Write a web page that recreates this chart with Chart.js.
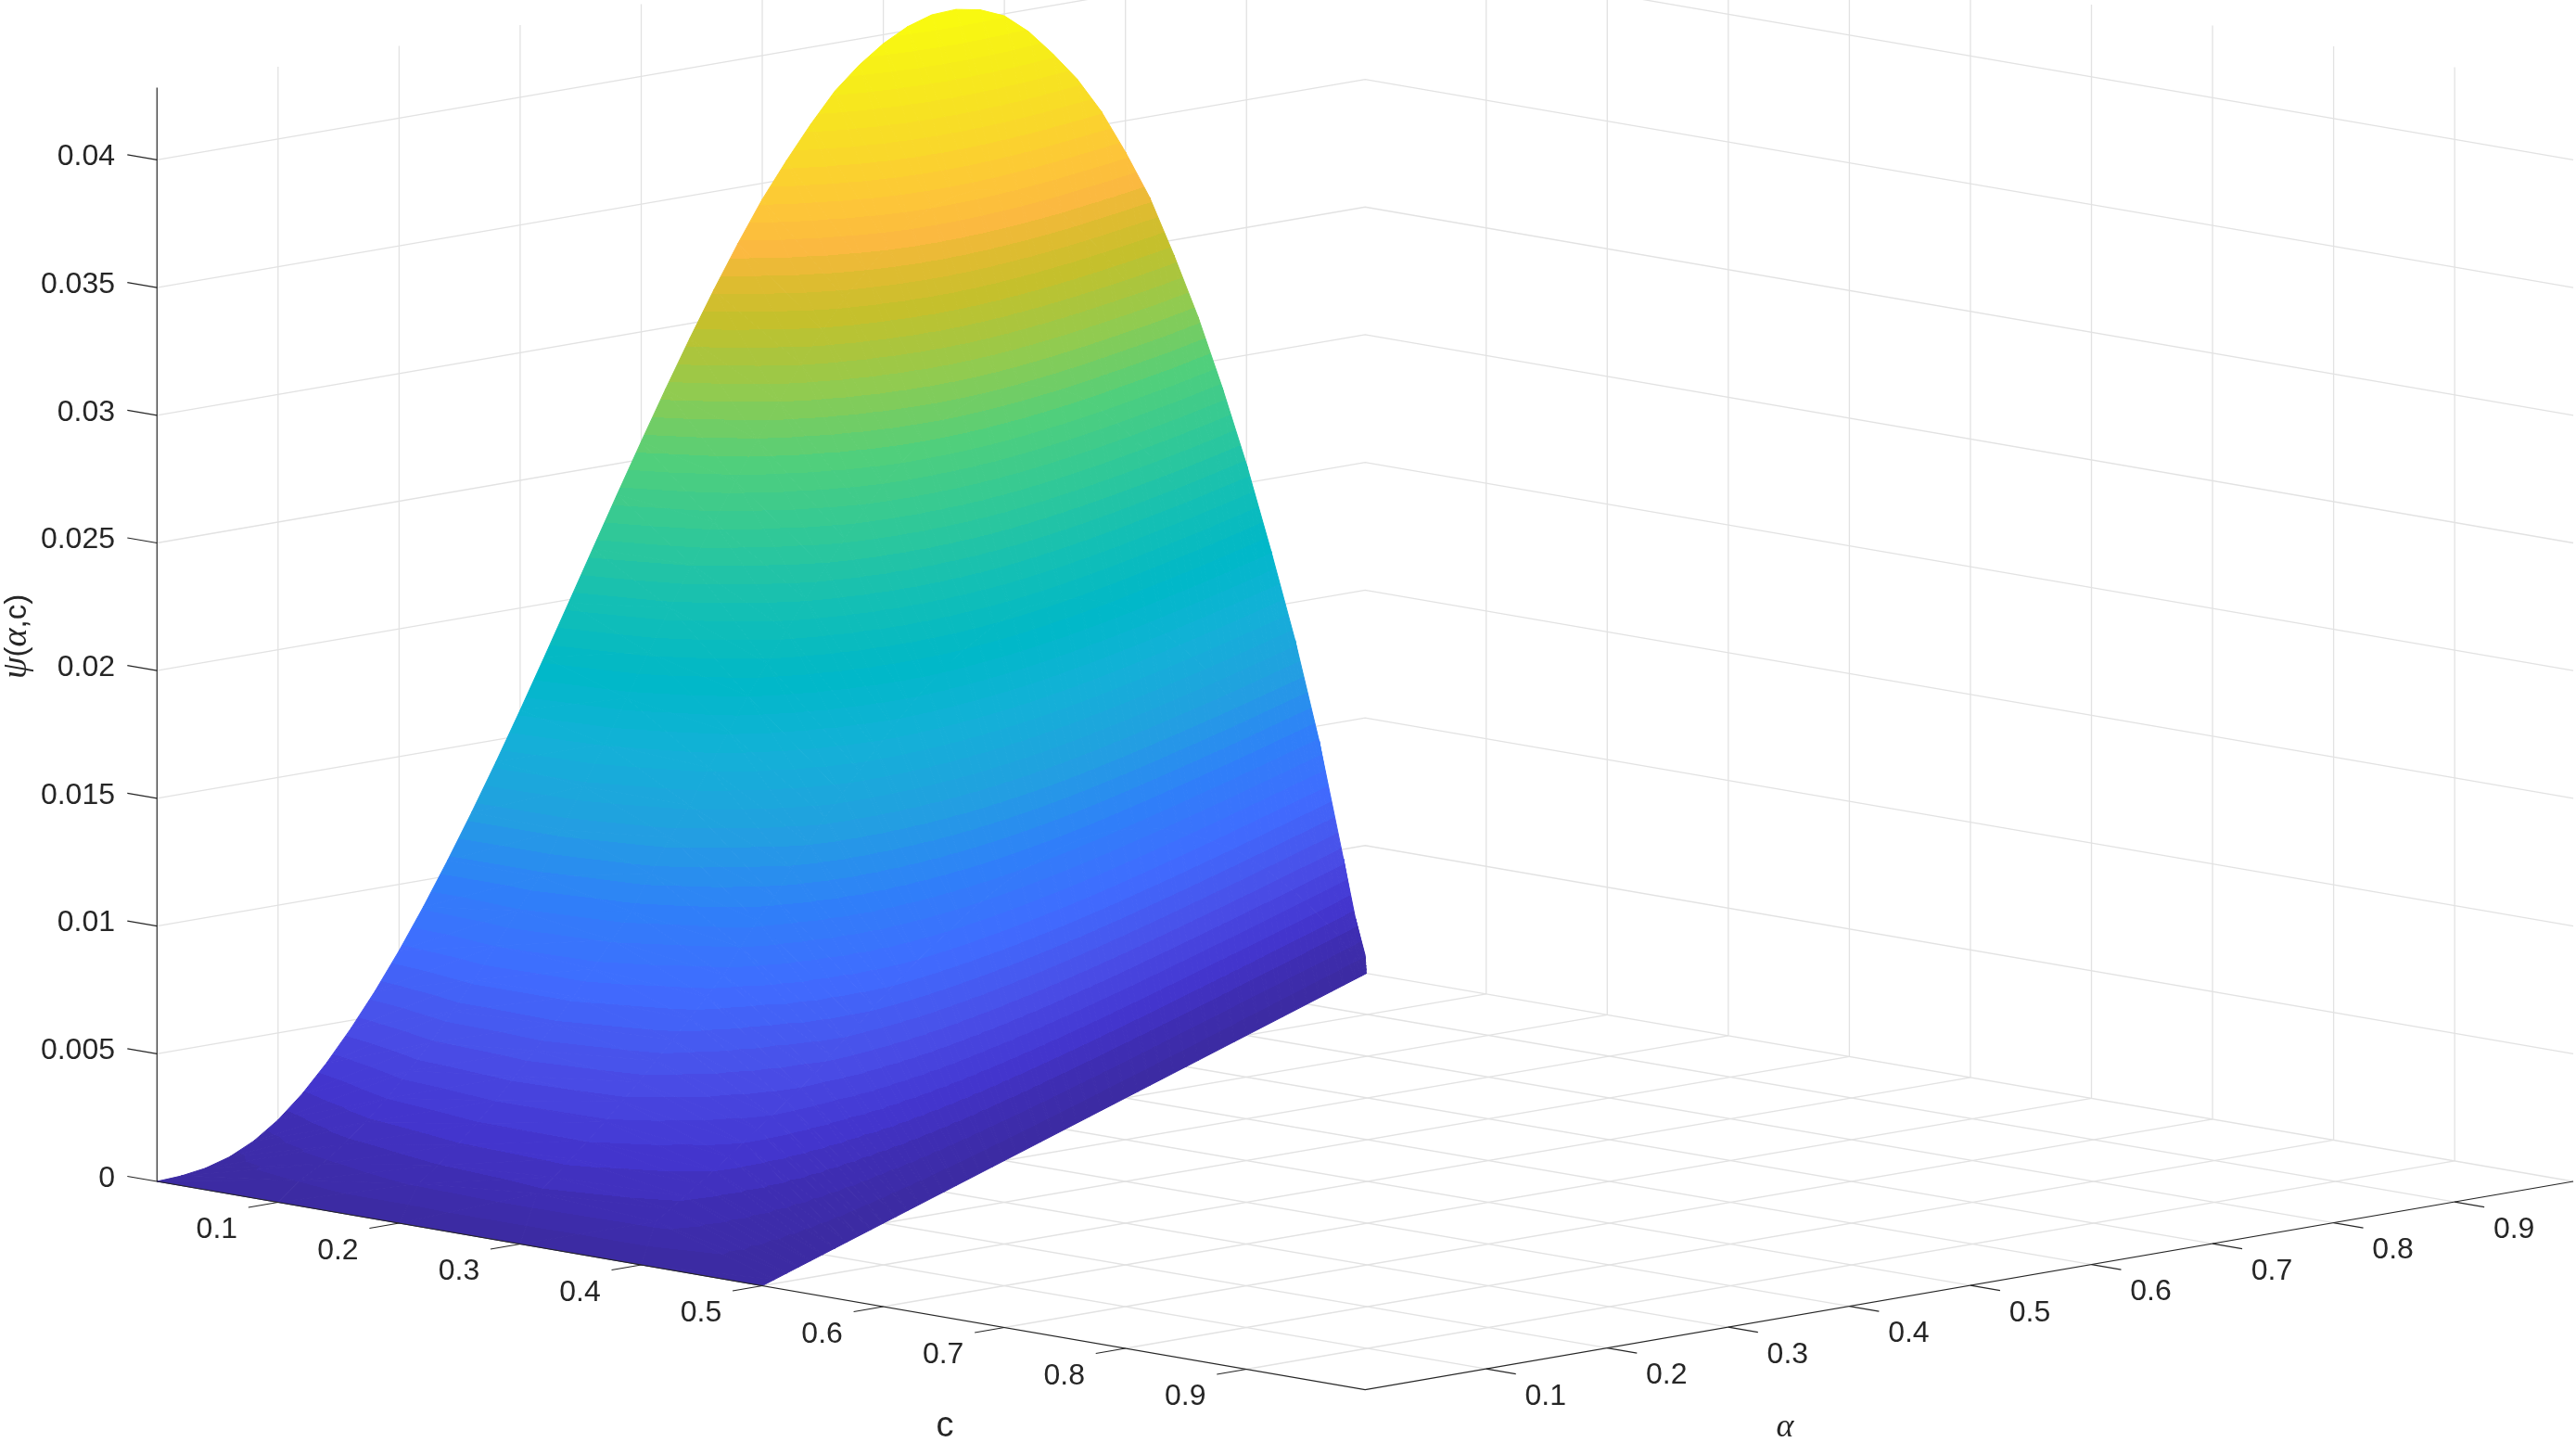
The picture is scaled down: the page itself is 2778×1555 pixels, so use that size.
<!DOCTYPE html>
<html>
<head>
<meta charset="utf-8">
<style>
  html, body { margin: 0; padding: 0; background: #fff; }
  canvas { display: block; }
</style>
<script src="https://cdn.jsdelivr.net/npm/chart.js@4"></script>
</head>
<body>
<canvas id="surfaceChart" width="2778" height="1555"></canvas>
<script>
const cTicks = [0.1, 0.2, 0.3, 0.4, 0.5, 0.6, 0.7, 0.8, 0.9];
const alphaTicks = [0.1, 0.2, 0.3, 0.4, 0.5, 0.6, 0.7, 0.8, 0.9];
const psiTicks = [0, 0.005, 0.01, 0.015, 0.02, 0.025, 0.03, 0.035, 0.04];
const psiTickLabels = ["0", "0.005", "0.01", "0.015", "0.02", "0.025", "0.03", "0.035", "0.04"];
const psiTop = 0.04283;
const boxEnd = 0.998;

// surface values
// each row is one alpha, columns go from c=0 to the far edge c=(1-alpha)/2
const alphaRows = [0, 0.02, 0.04, 0.06, 0.08, 0.1, 0.12, 0.14, 0.16, 0.18, 0.2, 0.22, 0.24, 0.26,
    0.28, 0.3, 0.32, 0.34, 0.36, 0.38, 0.4, 0.42, 0.44, 0.46, 0.48, 0.5, 0.52, 0.54, 0.56, 0.58,
    0.6, 0.62, 0.64, 0.66, 0.68, 0.7, 0.72, 0.74, 0.76, 0.78, 0.8, 0.82, 0.84, 0.86, 0.88, 0.9,
    0.92, 0.94, 0.96, 0.98, 0.99, 0.998];
const edgeFractions = [0, 0.2, 0.4, 0.6, 0.8, 1];
const psiRows = [
    [0, 0, 0, 0, 0, 0],
    [0.00005, 0.00066, 0.00136, 0.00178, 0.00147, 0],
    [0.00019, 0.00114, 0.00189, 0.0022, 0.00173, 0],
    [0.00047, 0.00171, 0.00247, 0.00269, 0.00199, 0],
    [0.00093, 0.0024, 0.00312, 0.0032, 0.00227, 0],
    [0.00159, 0.00318, 0.00382, 0.00372, 0.00256, 0],
    [0.00245, 0.00407, 0.00459, 0.0043, 0.00287, 0],
    [0.00349, 0.005, 0.00538, 0.00486, 0.00317, 0],
    [0.00467, 0.00603, 0.00623, 0.00547, 0.00349, 0],
    [0.00597, 0.00711, 0.0071, 0.00609, 0.0038, 0],
    [0.0074, 0.00824, 0.008, 0.00671, 0.00412, 0],
    [0.00895, 0.00943, 0.00894, 0.00734, 0.00444, 0],
    [0.0106, 0.0106, 0.00986, 0.00798, 0.00475, 0],
    [0.01233, 0.01224, 0.01115, 0.00888, 0.00522, 0],
    [0.01413, 0.01378, 0.01235, 0.0097, 0.00564, 0],
    [0.016, 0.01525, 0.01343, 0.01041, 0.00599, 0],
    [0.01792, 0.01686, 0.0147, 0.01128, 0.00643, 0],
    [0.01987, 0.01849, 0.0159, 0.01209, 0.00682, 0],
    [0.02183, 0.02005, 0.0171, 0.0129, 0.00723, 0],
    [0.02378, 0.02155, 0.0182, 0.01358, 0.00755, 0],
    [0.0257, 0.02305, 0.0193, 0.01428, 0.00788, 0],
    [0.02758, 0.02447, 0.02033, 0.01492, 0.00818, 0],
    [0.0294, 0.0259, 0.02133, 0.01559, 0.0085, 0],
    [0.03115, 0.02724, 0.0223, 0.01618, 0.00876, 0],
    [0.03281, 0.02852, 0.0232, 0.01675, 0.00902, 0],
    [0.03437, 0.02967, 0.02401, 0.01722, 0.00923, 0],
    [0.03572, 0.03072, 0.02475, 0.01765, 0.00941, 0],
    [0.03698, 0.0316, 0.02533, 0.01798, 0.00954, 0],
    [0.03812, 0.03245, 0.02589, 0.01829, 0.00968, 0],
    [0.03897, 0.03313, 0.02628, 0.0185, 0.00974, 0],
    [0.03965, 0.03358, 0.02653, 0.01858, 0.00976, 0],
    [0.04015, 0.03382, 0.02661, 0.01855, 0.00971, 0],
    [0.04045, 0.03388, 0.02657, 0.01845, 0.00964, 0],
    [0.0405, 0.03372, 0.02631, 0.01826, 0.00947, 0],
    [0.04032, 0.03342, 0.02601, 0.01798, 0.0093, 0],
    [0.03992, 0.0329, 0.02555, 0.0176, 0.00908, 0],
    [0.03914, 0.03223, 0.02493, 0.01711, 0.00882, 0],
    [0.03811, 0.0313, 0.02412, 0.01652, 0.0085, 0],
    [0.03696, 0.03022, 0.02323, 0.01587, 0.00812, 0],
    [0.03553, 0.02895, 0.02218, 0.01512, 0.00774, 0],
    [0.03377, 0.02752, 0.02105, 0.01431, 0.0073, 0],
    [0.03183, 0.0259, 0.01975, 0.0134, 0.00683, 0],
    [0.02941, 0.02388, 0.01818, 0.0123, 0.00624, 0],
    [0.02682, 0.02172, 0.01652, 0.01116, 0.00565, 0],
    [0.02389, 0.01933, 0.01465, 0.00987, 0.00499, 0],
    [0.02072, 0.01672, 0.01264, 0.00852, 0.00429, 0],
    [0.01721, 0.01387, 0.01046, 0.00702, 0.00354, 0],
    [0.01353, 0.01088, 0.0082, 0.00549, 0.00276, 0],
    [0.0094, 0.00754, 0.00567, 0.00379, 0.0019, 0],
    [0.00463, 0.00371, 0.00279, 0.00186, 0.00093, 0],
    [0.0022, 0.00176, 0.00132, 0.00088, 0.00044, 0],
    [0.0007, 0.00056, 0.00042, 0.00028, 0.00014, 0]
];

// colours of the surface against psi
const colorPsi = [0, 0.0015, 0.003, 0.005, 0.0075, 0.01, 0.0125, 0.015, 0.0175, 0.02, 0.0225, 0.025,
    0.0275, 0.03, 0.0315, 0.0325, 0.034, 0.036, 0.038, 0.0405];
const colorStops = [[59, 42, 160], [62, 45, 176], [68, 54, 208], [74, 78, 232], [64, 108, 255],
    [47, 128, 248], [34, 160, 224], [20, 176, 216], [0, 184, 200], [20, 191, 180], [48, 200, 152],
    [80, 207, 124], [144, 203, 80], [196, 192, 44], [224, 187, 48], [251, 184, 64], [253, 198, 56],
    [249, 218, 40], [246, 234, 28], [249, 251, 14]];
const colorLevels = 64;

// camera: orthographic view, constants measured on the box corners
const viewTilt = 225;
const viewZ = 27540;
const viewWidth = 1305.5;
function project(c, alpha, psi) {
    return { x: c + alpha, y: (alpha - c) * viewTilt + psi * viewZ };
}

function levelColor(k) {
    const psi = (k + 0.5) / colorLevels * colorPsi[colorPsi.length - 1];
    let i = 0;
    while (i < colorPsi.length - 2 && psi > colorPsi[i + 1]) i++;
    const t = (psi - colorPsi[i]) / (colorPsi[i + 1] - colorPsi[i]);
    const rgb = colorStops[i].map((v, n) => Math.round(v + (colorStops[i + 1][n] - v) * t));
    return `rgb(${rgb[0]},${rgb[1]},${rgb[2]})`;
}

function levelOf(psi) {
    const top = colorPsi[colorPsi.length - 1];
    return Math.max(0, Math.min(colorLevels - 1, Math.floor(psi / top * colorLevels)));
}

// fill of one triangle: hard colour steps laid out along its psi slope
function triangleFill(context) {
    const chart = context.chart;
    const ds = context.dataset;
    if (!chart.chartArea) return "transparent";
    if (ds.shade) return ds.shade;

    const xs = chart.scales.x, ys = chart.scales.y;
    const pts = ds.data.slice(0, 3).map(p => ({
        x: xs.getPixelForValue(p.x), y: ys.getPixelForValue(p.y), psi: p.psi
    }));
    const [a, b, c] = pts;
    const det = (b.x - a.x) * (c.y - a.y) - (c.x - a.x) * (b.y - a.y);
    const psis = pts.map(p => p.psi);
    const lo = Math.min(...psis), hi = Math.max(...psis);
    if (Math.abs(det) < 1e-6 || levelOf(lo) === levelOf(hi)) {
        ds.shade = levelColor(levelOf((lo + hi) / 2));
        return ds.shade;
    }

    const gx = ((b.psi - a.psi) * (c.y - a.y) - (c.psi - a.psi) * (b.y - a.y)) / det;
    const gy = ((c.psi - a.psi) * (b.x - a.x) - (b.psi - a.psi) * (c.x - a.x)) / det;
    const g2 = gx * gx + gy * gy;
    const start = pts[psis.indexOf(lo)];
    const span = hi - lo;
    const grad = chart.ctx.createLinearGradient(start.x, start.y,
        start.x + gx * span / g2, start.y + gy * span / g2);
    const top = colorPsi[colorPsi.length - 1];
    for (let k = levelOf(lo); k <= levelOf(hi); k++) {
        const from = Math.max(0, (k / colorLevels * top - lo) / span);
        const to = Math.min(1, ((k + 1) / colorLevels * top - lo) / span);
        grad.addColorStop(from, levelColor(k));
        grad.addColorStop(to, levelColor(k));
    }
    ds.shade = grad;
    return grad;
}

function triangle(p, q, r) {
    return {
        data: [p, q, r, p],
        showLine: true,
        fill: "shape",
        tension: 0,
        pointRadius: 0,
        borderWidth: 1,
        backgroundColor: triangleFill,
        borderColor: triangleFill,
        order: 1
    };
}

function surfacePoint(i, j) {
    const alpha = alphaRows[i];
    const c = edgeFractions[j] * (1 - alpha) / 2;
    return { ...project(c, alpha, psiRows[i][j]), psi: psiRows[i][j] };
}

function path(points, color, width, order) {
    return {
        data: points.map(p => project(p[0], p[1], p[2])),
        showLine: true,
        tension: 0,
        pointRadius: 0,
        fill: false,
        borderColor: color,
        borderWidth: width,
        order: order
    };
}

const datasets = [];
const axisColor = "#262626";
const gridColor = "#e2e2e2";
const tickLength = 0.0245;

// box axes and tick marks
datasets.push(path([[0, 0, 0], [0, 0, psiTop]], axisColor, 1.2, 0));
datasets.push(path([[0, 0, 0], [boxEnd, 0, 0], [boxEnd, boxEnd, 0]], axisColor, 1.2, 0));
psiTicks.forEach(v => datasets.push(path([[0, 0, v], [-tickLength, 0, v]], axisColor, 1.2, 0)));
cTicks.forEach(v => datasets.push(path([[v, 0, 0], [v, -tickLength, 0]], axisColor, 1.2, 0)));
alphaTicks.forEach(v => datasets.push(path([[boxEnd, v, 0], [boxEnd + tickLength, v, 0]], axisColor, 1.2, 0)));

// surface, nearest triangles first because the first dataset is painted last
for (let i = 0; i < alphaRows.length - 1; i++) {
    for (let j = edgeFractions.length - 2; j >= 0; j--) {
        const p00 = surfacePoint(i, j), p01 = surfacePoint(i, j + 1);
        const p10 = surfacePoint(i + 1, j), p11 = surfacePoint(i + 1, j + 1);
        datasets.push(triangle(p00, p01, p11));
        datasets.push(triangle(p00, p11, p10));
    }
}

// grid on the floor and the two back walls
psiTicks.forEach(v => datasets.push(path([[0, 0, v], [0, boxEnd, v], [boxEnd, boxEnd, v]], gridColor, 1.3, 2)));
alphaTicks.forEach(v => datasets.push(path([[0, v, 0], [0, v, psiTop]], gridColor, 1.3, 2)));
cTicks.forEach(v => datasets.push(path([[v, boxEnd, 0], [v, boxEnd, psiTop]], gridColor, 1.3, 2)));
cTicks.forEach(v => datasets.push(path([[v, 0, 0], [v, boxEnd, 0]], gridColor, 1.3, 2)));
alphaTicks.forEach(v => datasets.push(path([[0, v, 0], [boxEnd, v, 0]], gridColor, 1.3, 2)));

const boxText = {
    id: "boxText",
    afterDraw(chart) {
        const { ctx, scales: { x, y } } = chart;
        const at = (c, alpha, psi) => {
            const p = project(c, alpha, psi);
            return [x.getPixelForValue(p.x), y.getPixelForValue(p.y)];
        };
        ctx.save();
        ctx.fillStyle = axisColor;
        ctx.font = '32px "Liberation Sans"';
        ctx.textBaseline = "middle";

        ctx.textAlign = "right";
        psiTicks.forEach((v, i) => {
            const [, py] = at(0, 0, v);
            ctx.fillText(psiTickLabels[i], 124, py - 3);
        });
        ctx.textAlign = "center";
        cTicks.forEach(v => {
            const [px, py] = at(v, 0, 0);
            ctx.fillText(String(v), px - 66, py + 30);
        });
        alphaTicks.forEach(v => {
            const [px, py] = at(boxEnd, v, 0);
            ctx.fillText(String(v), px + 64, py + 30);
        });

        ctx.font = '38px "Liberation Sans"';
        ctx.fillText("c", 1019, 1539);
        ctx.font = 'italic 36px "Liberation Serif"';
        ctx.fillText("α", 1925, 1540);

        // rotated psi label, pieces set one after the other on one baseline
        ctx.translate(28, 732);
        ctx.rotate(-Math.PI / 2);
        ctx.textBaseline = "alphabetic";
        ctx.textAlign = "left";
        const parts = [["ψ", true], ["(", false], ["α", true], [",c)", false]];
        let cx = 0;
        parts.forEach(([t, it]) => {
            ctx.font = it ? 'italic 38px "Liberation Serif"' : '33px "Liberation Sans"';
            ctx.fillText(t, cx, 0);
            cx += ctx.measureText(t).width;
        });
        ctx.restore();
    }
};

new Chart(document.getElementById("surfaceChart"), {
    type: "scatter",
    data: { datasets: datasets },
    plugins: [boxText],
    options: {
        responsive: false,
        animation: false,
        devicePixelRatio: 1,
        layout: { padding: 0 },
        plugins: { legend: { display: false }, tooltip: { enabled: false } },
        scales: {
            x: { type: "linear", display: false, min: -169.3 / viewWidth, max: (2778 - 169.3) / viewWidth },
            y: { type: "linear", display: false, min: 1274 - 1555, max: 1274 }
        }
    }
});
</script>
</body>
</html>
